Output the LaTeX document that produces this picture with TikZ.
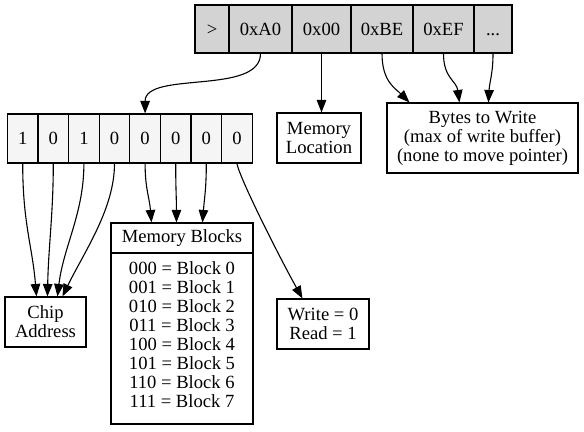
\documentclass[tikz,border=0pt]{standalone}
\usepackage{fontspec}
\setmainfont{Liberation Serif}
\usetikzlibrary{arrows.meta}
\definecolor{topgray}{RGB}{211,211,211}
\definecolor{bitgray}{RGB}{245,245,245}
\begin{document}
\begin{tikzpicture}[x=1bp,y=-1bp,
  txt/.style={inner sep=0pt,align=center,font=\fontsize{18.6bp}{19bp}\selectfont},
  box/.style={txt,draw,line width=1.1bp},
  cell/.style={box,text height=12.6bp,text depth=0bp},
  topcell/.style={cell,fill=topgray,minimum height=48bp},
  bitcell/.style={cell,fill=bitgray,minimum height=49bp,minimum width=30.6bp},
  edge/.style={draw,line width=1.1bp,-{Triangle[length=12.5bp,width=9.5bp]}}
]
\useasboundingbox (0,0) rectangle (584,431);
% top record
\node[topcell,minimum width=34bp] (gt) at (212,29) {>};
\node[topcell,minimum width=63bp] (a0) at (260.5,29) {0xA0};
\node[topcell,minimum width=59bp] (x00) at (321.5,29) {0x00};
\node[topcell,minimum width=62bp] (be) at (382,29) {0xBE};
\node[topcell,minimum width=61bp] (ef) at (443.5,29) {0xEF};
\node[topcell,minimum width=38bp] (dots) at (493,29) {...};
% bit record
\foreach \i/\t in {1/1,2/0,3/1,4/0,5/0,6/0,7/0,8/0}{
  \node[bitcell] (b\i) at ({22.7+(\i-1)*30.6},138.5) {\t};
}
% boxes
\node[box,minimum width=84bp,minimum height=50bp] (memloc) at (319,138) {Memory\\Location};
\node[box,minimum width=191bp,minimum height=70bp] (bytes) at (482.5,138) {Bytes to Write\\(max of write buffer)\\(none to move pointer)};
\node[box,minimum width=81bp,minimum height=50bp] (chip) at (45.5,322) {Chip\\Address};
\node[box,minimum width=142bp,minimum height=30bp] (memhead) at (182,238) {Memory Blocks};
\node[box,minimum width=142bp,minimum height=171bp] (membody) at (182,338.5) {};
\node[txt] (membodytext) at (182,335) {000 = Block 0\\001 = Block 1\\010 = Block 2\\011 = Block 3\\100 = Block 4\\101 = Block 5\\110 = Block 6\\111 = Block 7};
\node[box,minimum width=92bp,minimum height=50bp] (wr) at (323,324) {Write = 0\\Read = 1};
% edges from top record
\draw[edge] (a0.south) .. controls +(0,42) and +(0,-43) .. (b5.north);
\draw[edge] (x00.south) -- (x00.south |- memloc.north);
\draw[edge] (be.south) .. controls +(0,28) and +(-14,-14) .. ([xshift=23bp]bytes.north west);
\draw[edge] (ef.south) .. controls +(0,25) and +(-3,-22) .. ([xshift=73bp]bytes.north west);
\draw[edge] (dots.south) .. controls +(0,20) and +(1,-20) .. ([xshift=102bp]bytes.north west);
% edges from bits
\draw[edge] (b1.south) .. controls +(0,60) and +(-4,-50) .. ([xshift=32bp]chip.north west);
\draw[edge] (b2.south) .. controls +(0,50) and +(1,-50) .. ([xshift=43bp]chip.north west);
\draw[edge] (b3.south) .. controls +(0,50) and +(6,-50) .. ([xshift=53bp]chip.north west);
\draw[edge] (b4.south) .. controls +(0,45) and +(22,-45) .. ([xshift=58bp]chip.north west);
\draw[edge] (b5.south) .. controls +(0,25) and +(-2,-25) .. ([xshift=41bp]memhead.north west);
\draw[edge] (b6.south) .. controls +(0,25) and +(0,-25) .. ([xshift=66bp]memhead.north west);
\draw[edge] (b7.south) .. controls +(0,25) and +(2,-25) .. ([xshift=92bp]memhead.north west);
\draw[edge] (b8.south) .. controls +(3,15) and +(-25,-45) .. ([xshift=26bp]wr.north west);
\end{tikzpicture}
\end{document}
